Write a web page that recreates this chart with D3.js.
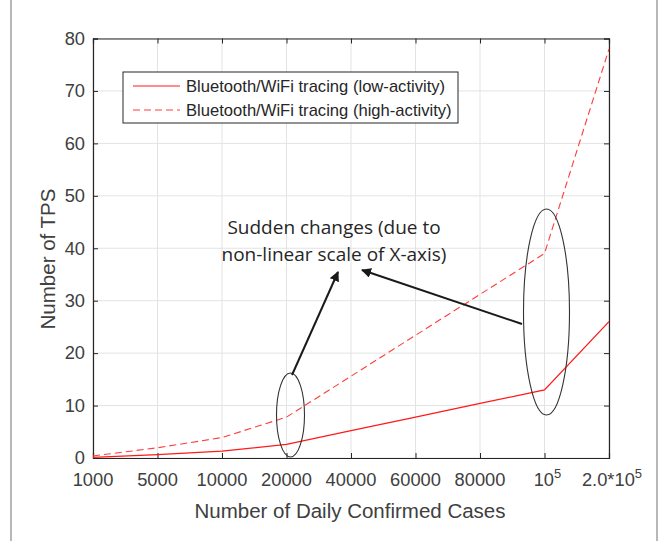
<!DOCTYPE html>
<html>
<head>
<meta charset="utf-8">
<script src="https://cdn.jsdelivr.net/npm/d3@7"></script>
<style>
  body { margin: 0; background: #fff; }
  svg { display: block; font-family: "Liberation Sans", Arial, sans-serif; }
</style>
</head>
<body>
<svg id="chart" width="665" height="541"></svg>
<script>
// x categories (non-linear axis, equally spaced)
const cases = ["1000", "5000", "10000", "20000", "40000", "60000", "80000", "1e5", "2e5"];
const lowActivity = [0.13, 0.65, 1.3, 2.6, 5.2, 7.8, 10.4, 13, 26];
const highActivity = [0.39, 1.95, 3.9, 7.8, 15.6, 23.4, 31.2, 39, 78];
const yTicks = [0, 10, 20, 30, 40, 50, 60, 70, 80];
const seriesNames = ["Bluetooth/WiFi tracing (low-activity)", "Bluetooth/WiFi tracing (high-activity)"];

const svg = d3.select("#chart");
const margin = { top: 38.5, right: 56, bottom: 83, left: 93 };
const width = 665, height = 541;
const axisColor = "#262626";

const x = d3.scalePoint().domain(cases).range([margin.left, width - margin.right]);
const y = d3.scaleLinear().domain([0, 80]).range([height - margin.bottom, margin.top]);

// outer frame lines
svg.append("line").attr("x1", 11).attr("x2", 11).attr("y1", 0).attr("y2", height)
  .attr("stroke", "#a0a0a0").attr("stroke-width", 1.5);
svg.append("line").attr("x1", 657).attr("x2", 657).attr("y1", 0).attr("y2", height)
  .attr("stroke", "#a0a0a0").attr("stroke-width", 1.5);

//Grid
const grid = svg.append("g").attr("stroke", "#e3e3e3").attr("stroke-width", 1);
grid.selectAll(".vg").data(cases).enter().append("line")
  .attr("x1", d => x(d)).attr("x2", d => x(d))
  .attr("y1", y(0)).attr("y2", y(80));
grid.selectAll(".hg").data(yTicks).enter().append("line")
  .attr("x1", x.range()[0]).attr("x2", x.range()[1])
  .attr("y1", d => y(d)).attr("y2", d => y(d));

//Axes
const tickLabel = (d) => {
  if (d === "1e5") return "10<tspan dy='-8' font-size='13'>5</tspan>";
  if (d === "2e5") return "2.0*10<tspan dy='-8' font-size='13'>5</tspan>";
  return d;
};
const xAxis = d3.axisBottom(x).tickSize(-5).tickFormat("");
const xAxisTop = d3.axisTop(x).tickSize(-5).tickFormat("");
const yAxis = d3.axisLeft(y).tickValues(yTicks).tickSize(-5).tickPadding(8);
const yAxisRight = d3.axisRight(y).tickValues(yTicks).tickSize(-5).tickFormat("");

svg.append("g").attr("transform", `translate(0,${y(0)})`).call(xAxis);
svg.append("g").attr("transform", `translate(0,${y(80)})`).call(xAxisTop);
const gy = svg.append("g").attr("transform", `translate(${x.range()[0]},0)`).call(yAxis);
svg.append("g").attr("transform", `translate(${x.range()[1]},0)`).call(yAxisRight);

svg.selectAll(".domain").attr("stroke", axisColor).attr("stroke-width", 1.2);
svg.selectAll(".tick line").attr("stroke", axisColor);
gy.selectAll("text").attr("font-size", 18.3).attr("fill", "#404040")
  .attr("font-family", "Liberation Sans, Arial, sans-serif");

svg.append("g").selectAll("text").data(cases).enter().append("text")
  .attr("x", d => x(d)).attr("y", y(0) + 28)
  .attr("text-anchor", "middle").attr("font-size", 18.3).attr("fill", "#404040")
  .attr("dx", (d, i) => (i >= 7 ? 3 : 0))
  .html(tickLabel);

//Axis titles
svg.append("text").attr("x", (x.range()[0] + x.range()[1]) / 2 - 1).attr("y", 518)
  .attr("text-anchor", "middle").attr("font-size", 20.5).attr("fill", "#404040")
  .text("Number of Daily Confirmed Cases");
svg.append("text").attr("transform", `translate(55,259) rotate(-90)`)
  .attr("text-anchor", "middle").attr("font-size", 20.5).attr("fill", "#404040")
  .text("Number of TPS");

//Lines
const line = d3.line().x((d, i) => x(cases[i])).y(d => y(d));
svg.append("path").datum(lowActivity).attr("d", line)
  .attr("fill", "none").attr("stroke", "#ff1a1a").attr("stroke-width", 1.3);
svg.append("path").datum(highActivity).attr("d", line)
  .attr("fill", "none").attr("stroke", "#ff3c3c").attr("stroke-width", 1.1)
  .attr("stroke-dasharray", "7,4");

//Legend
const legend = svg.append("g").attr("transform", "translate(123,72)");
legend.append("rect").attr("width", 335).attr("height", 51)
  .attr("fill", "#fff").attr("stroke", "#262626").attr("stroke-width", 1);
const rows = legend.selectAll(".row").data(seriesNames).enter().append("g")
  .attr("transform", (d, i) => `translate(0,${14 + i * 24})`);
rows.append("line").attr("x1", 10).attr("x2", 57).attr("y1", 0).attr("y2", 0)
  .attr("stroke", (d, i) => (i === 0 ? "#ff1a1a" : "#ff3c3c"))
  .attr("stroke-dasharray", (d, i) => (i === 0 ? null : "7,4"));
rows.append("text").attr("x", 63).attr("y", 6).attr("font-size", 16.6)
  .attr("fill", "#262626").text(d => d);

//Annotations
const ann = svg.append("g").attr("fill", "none").attr("stroke", "#333").attr("stroke-width", 1.1);
ann.append("ellipse").attr("cx", x("20000") + 4).attr("cy", 415).attr("rx", 14).attr("ry", 42);
ann.append("ellipse").attr("cx", x("1e5") + 2).attr("cy", 312).attr("rx", 23).attr("ry", 103);

svg.append("defs").append("marker").attr("id", "arrow")
  .attr("viewBox", "0 0 10 10").attr("refX", 9).attr("refY", 5)
  .attr("markerWidth", 5).attr("markerHeight", 5).attr("orient", "auto")
  .append("path").attr("d", "M0,0 L10,5 L0,10 z").attr("fill", "#1a1a1a");

svg.append("line").attr("x1", 292).attr("y1", 375).attr("x2", 338).attr("y2", 272)
  .attr("stroke", "#1a1a1a").attr("stroke-width", 2).attr("marker-end", "url(#arrow)");
svg.append("line").attr("x1", 522).attr("y1", 324).attr("x2", 362).attr("y2", 270)
  .attr("stroke", "#1a1a1a").attr("stroke-width", 2).attr("marker-end", "url(#arrow)");

const note = svg.append("text").attr("text-anchor", "middle").attr("font-size", 19)
  .attr("font-family", "Open Sans, sans-serif").attr("fill", "#262626");
note.append("tspan").attr("x", 334).attr("y", 234).text("Sudden changes (due to");
note.append("tspan").attr("x", 334).attr("y", 261).text("non-linear scale of X-axis)");
</script>
</body>
</html>
